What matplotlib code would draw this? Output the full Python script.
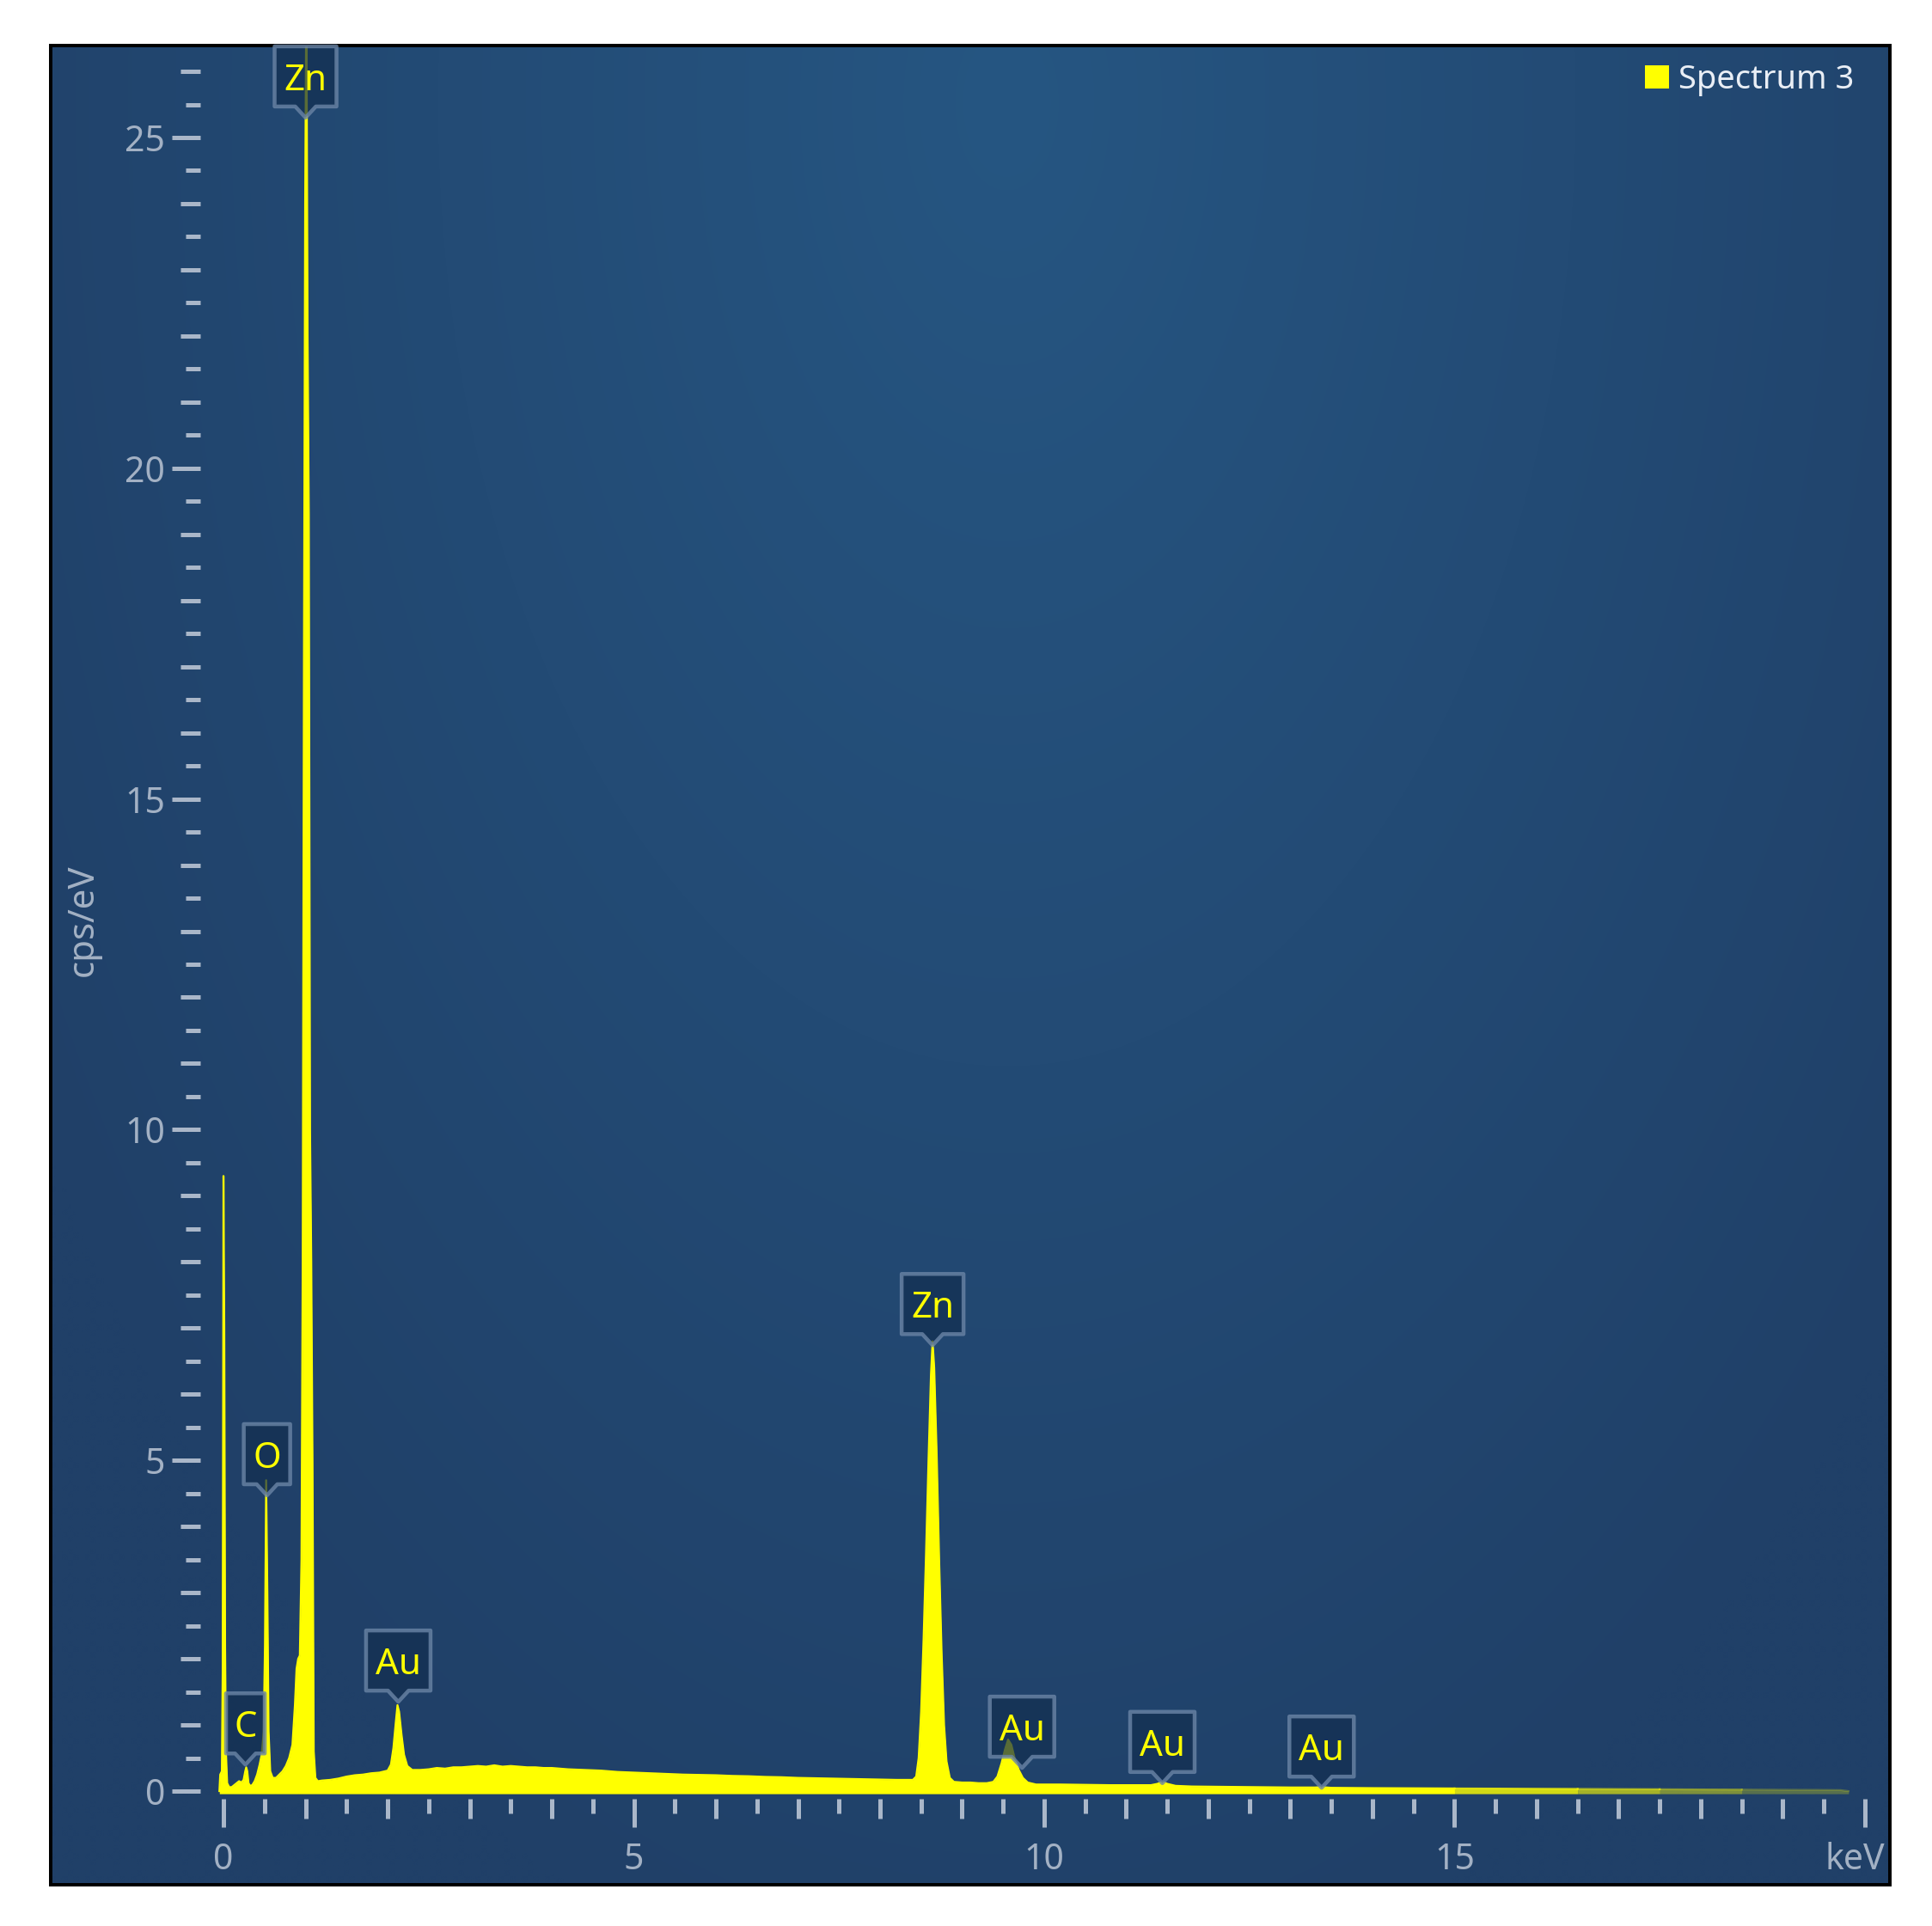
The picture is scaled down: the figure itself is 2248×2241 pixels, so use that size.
import numpy as np
import matplotlib
matplotlib.use("Agg")
import matplotlib.pyplot as plt
import matplotlib.transforms as mtransforms
from matplotlib.path import Path
from matplotlib.patches import PathPatch, Patch

plt.rcParams['font.family'] = ['Noto Sans', 'DejaVu Sans']

# EDS spectrum (keV, cps/eV)
energy_kev = [
    -0.05, -0.04, -0.02, -0.01, 0.0, 0.01, 0.02, 0.03, 0.045, 0.07,
    0.10, 0.13, 0.16, 0.19, 0.22, 0.245, 0.265, 0.277, 0.29, 0.305,
    0.325, 0.35, 0.38, 0.41, 0.44, 0.465, 0.49, 0.505, 0.52, 0.535,
    0.55, 0.57, 0.60, 0.64, 0.68, 0.72, 0.76, 0.80, 0.84, 0.87,
    0.89, 0.91, 0.93, 0.95, 0.965, 0.98, 0.995, 1.01, 1.025, 1.04,
    1.055, 1.07, 1.085, 1.10, 1.12, 1.15, 1.2, 1.3, 1.4, 1.5,
    1.6, 1.7, 1.8, 1.9, 2.0, 2.04, 2.07, 2.10, 2.12, 2.14,
    2.17, 2.20, 2.24, 2.3, 2.4, 2.5, 2.6, 2.7, 2.8, 2.9,
    3.0, 3.1, 3.2, 3.3, 3.4, 3.5, 3.6, 3.7, 3.8, 3.9,
    4.0, 4.2, 4.4, 4.6, 4.8, 5.0, 5.2, 5.4, 5.6, 5.8,
    6.0, 6.2, 6.4, 6.6, 6.8, 7.0, 7.2, 7.4, 7.6, 7.8,
    8.0, 8.2, 8.40, 8.44, 8.47, 8.50, 8.53, 8.56, 8.59, 8.62,
    8.64, 8.66, 8.69, 8.72, 8.75, 8.78, 8.81, 8.85, 8.9, 9.0,
    9.1, 9.2, 9.3, 9.38, 9.43, 9.48, 9.52, 9.56, 9.60, 9.64,
    9.69, 9.74, 9.8, 9.9, 10.2, 10.5, 10.8, 11.1, 11.3, 11.38,
    11.44, 11.5, 11.6, 11.8, 12.2, 12.6, 13.0, 13.3, 13.38, 13.5,
    14.0, 14.5, 15.0, 15.5, 16.0, 16.5, 17.0, 17.5, 18.0, 18.5,
    19.0, 19.4, 19.7, 19.8,
]
cps_per_ev = [
    0.0, 0.25, 0.3, 1.8, 9.3, 7.0, 2.2, 0.6, 0.12, 0.06,
    0.06, 0.09, 0.12, 0.15, 0.13, 0.17, 0.3, 0.36, 0.3, 0.12,
    0.08, 0.09, 0.15, 0.25, 0.4, 0.55, 0.9, 2.2, 4.7, 3.0,
    0.9, 0.3, 0.2, 0.2, 0.25, 0.3, 0.38, 0.5, 0.7, 1.3,
    1.85, 2.0, 2.05, 3.5, 8.0, 17.0, 24.0, 27.5, 22.0, 19.3,
    10.0, 8.0, 5.0, 0.6, 0.2, 0.15, 0.16, 0.17, 0.19, 0.22,
    0.24, 0.25, 0.27, 0.28, 0.31, 0.4, 0.65, 1.05, 1.3, 1.2,
    0.85, 0.55, 0.38, 0.32, 0.32, 0.33, 0.35, 0.34, 0.36, 0.36,
    0.37, 0.38, 0.37, 0.39, 0.37, 0.38, 0.37, 0.36, 0.36, 0.35,
    0.35, 0.33, 0.32, 0.31, 0.29, 0.28, 0.27, 0.26, 0.25, 0.245,
    0.24, 0.23, 0.225, 0.215, 0.21, 0.2, 0.195, 0.19, 0.185, 0.18,
    0.175, 0.17, 0.17, 0.22, 0.5, 1.2, 2.3, 3.6, 5.0, 6.3,
    6.8, 6.4, 5.1, 3.5, 2.1, 1.0, 0.45, 0.2, 0.14, 0.13,
    0.13, 0.12, 0.12, 0.14, 0.22, 0.42, 0.62, 0.78, 0.7, 0.5,
    0.32, 0.2, 0.13, 0.1, 0.1, 0.095, 0.09, 0.09, 0.09, 0.11,
    0.14, 0.11, 0.08, 0.07, 0.065, 0.06, 0.055, 0.055, 0.06, 0.05,
    0.045, 0.042, 0.04, 0.038, 0.035, 0.033, 0.03, 0.028, 0.025, 0.023,
    0.02, 0.018, 0.015, 0.0,
]

# element markers: label, line energy (keV), height of the marker tip (cps/eV)
peak_labels = ['C', 'O', 'Zn', 'Au', 'Zn', 'Au', 'Au', 'Au']
peak_energy = [0.267, 0.53, 1.0, 2.13, 8.64, 9.73, 11.44, 13.38]
peak_height = [0.40, 4.47, 25.3, 1.35, 6.74, 0.35, 0.12, 0.05]

x_major = [0, 5, 10, 15, 20]
x_major_labels = ['0', '5', '10', '15', '']
x_minor = [k * 0.5 for k in range(41) if k % 10 != 0]
y_major = [0, 5, 10, 15, 20, 25]
y_minor = [k * 0.5 for k in range(53) if k % 10 != 0]

W, H, DPI = 2248, 2241, 72
YELLOW = '#ffff00'
TICK_C = '#aab7c9'
LABEL_C = '#a3b1c4'

fig = plt.figure(figsize=(W / DPI, H / DPI), dpi=DPI, facecolor='white')

# framed panel with radial glow
bg = fig.add_axes([59 / W, 1 - 2193 / H, (2199 - 59) / W, (2193 - 53) / H])
gx, gy = np.meshgrid(np.linspace(0, 1, 400), np.linspace(1, 0, 400))
r = np.clip(np.sqrt(((gx - 0.52) / 0.62) ** 2 + ((gy - 0.97) / 1.05) ** 2), 0, 1)
c_in = np.array([38, 86, 130]) / 255
c_out = np.array([32, 64, 104]) / 255
grad = c_in[None, None, :] * (1 - r[..., None]) + c_out[None, None, :] * r[..., None]
bg.imshow(grad, extent=(0, 1, 0, 1), aspect='auto', interpolation='bilinear')
bg.set_xticks([])
bg.set_yticks([])
for s in bg.spines.values():
    s.set_linewidth(4)
    s.set_color('black')

# data axes
left, right = 254.3, 2198.6
bottom, top = 2087.1, 53.8
ax = fig.add_axes([left / W, 1 - bottom / H, (right - left) / W, (bottom - top) / H])
ax.patch.set_visible(False)
ax.set_xlim(-0.06, 20.3)
ax.set_ylim(-0.04, 26.38)
for s in ax.spines.values():
    s.set_visible(False)
ax.spines['left'].set_position(('outward', 21))
ax.spines['bottom'].set_position(('outward', 6))

ax.set_xticks(x_major, x_major_labels)
ax.set_xticks(x_minor, minor=True)
ax.set_yticks(y_major, [str(v) for v in y_major])
ax.set_yticks(y_minor, minor=True)
ax.tick_params(axis='both', which='both', direction='out', color=TICK_C, width=5,
               labelcolor=LABEL_C, labelsize=41, top=False, right=False)
ax.tick_params(axis='both', which='major', length=33)
ax.tick_params(axis='both', which='minor', length=17)
ax.tick_params(axis='y', which='major', pad=8)
ax.tick_params(axis='x', which='major', pad=17)
for t, loc in zip(ax.xaxis.get_minor_ticks(len(x_minor)), x_minor):
    if float(loc).is_integer():
        t.tick1line.set_markersize(23)
for t, loc in zip(ax.yaxis.get_minor_ticks(len(y_minor)), y_minor):
    if float(loc).is_integer():
        t.tick1line.set_markersize(23)

ax.set_ylabel('cps/eV', fontsize=42, color=LABEL_C, va='center')
ax.yaxis.set_label_coords((97 - left) / (right - left), 0.5)
ax.set_xlabel('keV', fontsize=41, color=LABEL_C, ha='right', va='top')
ax.xaxis.set_label_coords((2193 - left) / (right - left), (bottom - 2143) / (bottom - top))

E = np.array(energy_kev)
C = np.array(cps_per_ev)
main = E <= 15.0
ax.fill_between(E[main], C[main], -0.04, color=YELLOW, lw=0, zorder=2)
ax.plot(E[main], C[main], color=YELLOW, lw=2.2, zorder=3)
# the far tail fades out gradually
for lo, hi, a in [(15.0, 16.5, 0.8), (16.5, 17.5, 0.6), (17.5, 18.5, 0.42), (18.5, 19.8, 0.25)]:
    seg = (E >= lo) & (E <= hi)
    ax.fill_between(E[seg], C[seg], -0.04, color=YELLOW, lw=0, alpha=a, zorder=2)
    ax.plot(E[seg], C[seg], color=YELLOW, lw=2.2, alpha=a, zorder=3)

# element marker boxes
box_w = {'C': 45, 'O': 54, 'Zn': 72, 'Au': 75}
for lab, ex, ey in zip(peak_labels, peak_energy, peak_height):
    w = box_w[lab]
    h0, h1 = 13, 83
    verts = [(-w / 2, h0), (-12, h0), (0, 0), (12, h0), (w / 2, h0),
             (w / 2, h1), (-w / 2, h1), (-w / 2, h0)]
    codes = [Path.MOVETO] + [Path.LINETO] * 6 + [Path.CLOSEPOLY]
    trans = mtransforms.Affine2D() + mtransforms.ScaledTranslation(ex, ey, ax.transData)
    ax.add_patch(PathPatch(Path(verts, codes), transform=trans,
                           facecolor=(0.07, 0.18, 0.31, 0.7),
                           edgecolor=(0.42, 0.52, 0.65, 0.8), lw=4.5,
                           joinstyle='round', zorder=4, clip_on=False))
    ax.annotate(lab, xy=(ex, ey), xytext=(0, 48), textcoords='offset pixels',
                ha='center', va='center_baseline', color=YELLOW, fontsize=42,
                zorder=5, annotation_clip=False)

ax.legend(handles=[Patch(facecolor=YELLOW, edgecolor='none', label='Spectrum 3')],
          loc='upper right', bbox_to_anchor=(2157 / W, 1 - 74 / H),
          bbox_transform=fig.transFigure, frameon=False, fontsize=38,
          handlelength=0.74, handleheight=0.7, handletextpad=0.27,
          borderpad=0, borderaxespad=0, labelcolor='#e9eef5')

fig.savefig('out.png', dpi=DPI, facecolor='white')
